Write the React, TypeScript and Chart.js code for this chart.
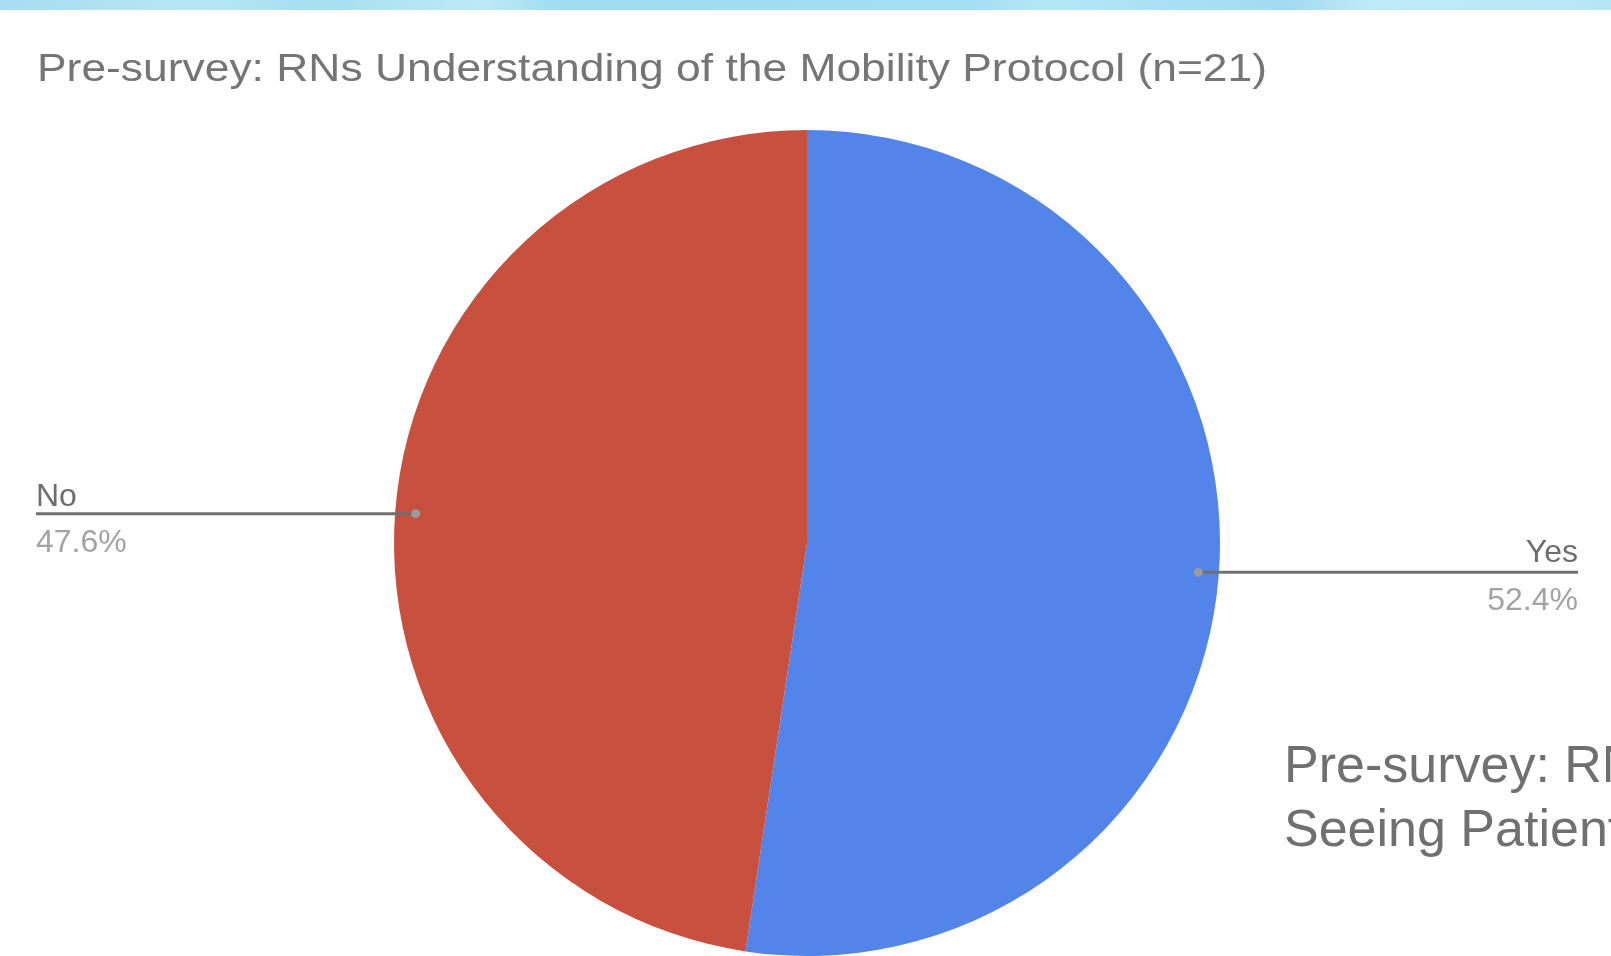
import React, { useEffect, useRef } from "react";
import { Chart, registerables } from "chart.js";

Chart.register(...registerables);

const TITLE = "Pre-survey: RNs Understanding of the Mobility Protocol (n=21)";
const CATEGORIES = ["Yes", "No"];
const COUNTS = [11, 10];
const PERCENT_LABELS = ["52.4%", "47.6%"];
const COLORS = ["#5284EA", "#C7503F"];
const NEXT_TITLE_LINES = ["Pre-survey: RNs Understanding of", "Seeing Patients"];

const FONT = '"Liberation Sans", Arial, sans-serif';

const labelPlugin = {
  id: "leaderLabels",
  afterDraw(chart: any) {
    const ctx = chart.ctx as CanvasRenderingContext2D;
    // title, stretched horizontally to match the reference's wider face
    ctx.save();
    ctx.fillStyle = "#757575";
    ctx.font = `39px ${FONT}`;
    ctx.textBaseline = "alphabetic";
    ctx.textAlign = "left";
    const w = ctx.measureText(TITLE).width;
    const target = 1267 - 37;
    ctx.translate(37, 81);
    ctx.scale(target / w, 1);
    ctx.fillText(TITLE, 0, 0);
    ctx.restore();

    const meta = chart.getDatasetMeta(0);
    meta.data.forEach((arc: any, i: number) => {
      const p = arc.getProps(["x", "y", "startAngle", "endAngle", "outerRadius"], true);
      const mid = (p.startAngle + p.endAngle) / 2;
      const r = p.outerRadius * 0.95;
      const dx = p.x + Math.cos(mid) * r;
      const dy = p.y + Math.sin(mid) * r;
      const right = Math.cos(mid) > 0;
      const endX = right ? 1578 : 36;
      ctx.save();
      ctx.strokeStyle = "#707070";
      ctx.lineWidth = 3;
      ctx.beginPath();
      ctx.moveTo(dx, dy);
      ctx.lineTo(endX, dy);
      ctx.stroke();
      ctx.fillStyle = "#9a9a9a";
      ctx.beginPath();
      ctx.arc(dx, dy, 4.5, 0, Math.PI * 2);
      ctx.fill();
      ctx.textAlign = right ? "right" : "left";
      ctx.font = `32px ${FONT}`;
      ctx.fillStyle = "#6e6e6e";
      ctx.fillText(CATEGORIES[i], endX, dy - (right ? 10 : 8));
      ctx.fillStyle = "#a3a3a3";
      ctx.fillText(PERCENT_LABELS[i], endX, dy + 38);
      ctx.restore();
    });
  },
};

export default function App() {
  const ref = useRef<HTMLCanvasElement>(null);
  useEffect(() => {
    document.body.style.margin = "0";
    const chart = new Chart(ref.current!, {
      type: "pie",
      data: {
        labels: CATEGORIES,
        datasets: [
          {
            data: COUNTS,
            backgroundColor: COLORS,
            borderWidth: 0,
          },
        ],
      },
      options: {
        animation: false,
        responsive: false,
        maintainAspectRatio: false,
        layout: { padding: { top: 130, bottom: 0, left: 394, right: 391 } },
        plugins: {
          legend: { display: false },
          tooltip: { enabled: false },
          title: { display: false },
        },
      },
      plugins: [labelPlugin],
    });
    return () => chart.destroy();
  }, []);

  return (
    <div
      style={{
        position: "absolute",
        left: 0,
        top: 0,
        width: 1611,
        height: 956,
        overflow: "hidden",
        background: "#ffffff",
      }}
    >
      <div
        style={{
          position: "absolute",
          left: 0,
          top: 0,
          width: 1611,
          height: 10,
          background:
            "linear-gradient(90deg, #a8dcf0 0%, #b6e6f6 12%, #a6dff0 20%, #bde9f8 30%, #9edcee 35%, #a4def1 60%, #b3e6f7 65%, #a2daf0 80%, #c0eaf8 85%, #b6e6f6 100%)",
        }}
      />
      <canvas ref={ref} width={1611} height={956} style={{ position: "absolute", left: 0, top: 0 }} />
      <div
        style={{
          position: "absolute",
          left: 1284,
          top: 732,
          fontFamily: FONT,
          fontSize: 52,
          lineHeight: "64px",
          color: "#707070",
          whiteSpace: "nowrap",
        }}
      >
        {NEXT_TITLE_LINES.map((l, i) => (
          <div key={i}>{l}</div>
        ))}
      </div>
    </div>
  );
}
